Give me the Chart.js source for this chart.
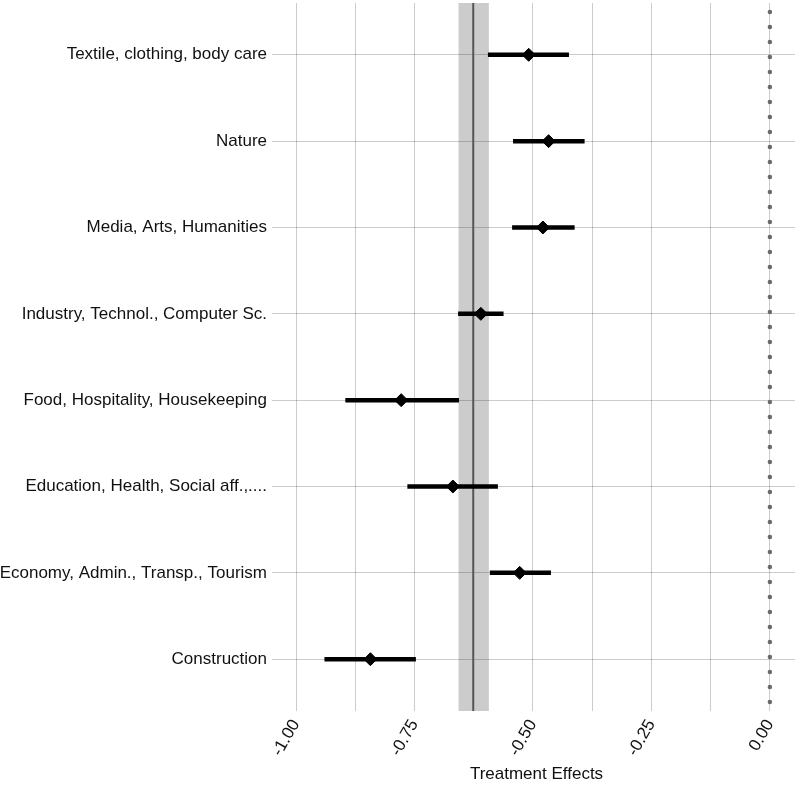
<!DOCTYPE html>
<html>
<head>
<meta charset="utf-8">
<script src="https://cdn.jsdelivr.net/npm/chart.js@4/dist/chart.umd.min.js"></script>
<style>
  html, body { margin: 0; padding: 0; background: #fff; overflow: hidden; }
  #wrap { width: 795px; height: 786px; }
</style>
</head>
<body>
<div id="wrap"><canvas id="graph1"></canvas></div>
<script>
// occupational fields, top to bottom
var categories = [
    'Textile, clothing, body care',
    'Nature',
    'Media, Arts, Humanities',
    'Industry, Technol., Computer Sc.',
    'Food, Hospitality, Housekeeping',
    'Education, Health, Social aff.,....',
    'Economy, Admin., Transp., Tourism',
    'Construction'
];
var estimates = [-0.509, -0.467, -0.479, -0.610, -0.778, -0.669, -0.528, -0.843];
var ciLow     = [-0.595, -0.542, -0.544, -0.658, -0.896, -0.765, -0.591, -0.940];
var ciHigh    = [-0.424, -0.391, -0.412, -0.562, -0.656, -0.574, -0.462, -0.747];

// pooled effect and its interval (grey band)
var overallEffect = -0.626;
var overallLow = -0.657;
var overallHigh = -0.593;

var xTicks = [-1, -0.875, -0.75, -0.625, -0.5, -0.375, -0.25, -0.125, 0];
var xLabelTicks = [-1, -0.75, -0.5, -0.25, 0];

var FONT = "'Liberation Sans', Arial, sans-serif";
var GRID = 'rgba(0,0,0,0.2)';

var rows = categories.map(function (c, i) { return i + 1; });

var datasets = [];

// confidence intervals
categories.forEach(function (c, i) {
    datasets.push({
        type: 'line',
        data: [{x: ciLow[i], y: rows[i]}, {x: ciHigh[i], y: rows[i]}],
        borderColor: '#000',
        borderWidth: 4.5,
        borderCapStyle: 'butt',
        pointRadius: 0
    });
});

// point estimates
datasets.push({
    type: 'scatter',
    data: estimates.map(function (v, i) { return {x: v, y: rows[i]}; }),
    pointStyle: 'rectRot',
    pointRadius: 6.5,
    backgroundColor: '#000',
    borderColor: '#000'
});

// zero reference line
datasets.push({
    type: 'line',
    data: [{x: 0, y: 0.4}, {x: 0, y: 8.6}],
    borderColor: '#6a6a6a',
    borderWidth: 4.5,
    borderCapStyle: 'round',
    borderDash: [0, 15],
    borderDashOffset: 6,
    pointRadius: 0
});

var bandPlugin = {
    id: 'band',
    beforeDatasetsDraw: function (chart) {
        var ctx = chart.ctx, x = chart.scales.x, area = chart.chartArea;
        var l = x.getPixelForValue(overallLow), r = x.getPixelForValue(overallHigh);
        var m = x.getPixelForValue(overallEffect);
        ctx.save();
        ctx.fillStyle = 'rgba(0,0,0,0.2)';
        ctx.fillRect(l, area.top, r - l, area.bottom - area.top);
        ctx.strokeStyle = '#555';
        ctx.lineWidth = 2;
        ctx.beginPath();
        ctx.moveTo(m, area.top);
        ctx.lineTo(m, area.bottom);
        ctx.stroke();
        ctx.restore();
    }
};

var ctx = document.getElementById('graph1').getContext('2d');
var config = {
    type: 'scatter',
    data: { datasets: datasets },
    plugins: [bandPlugin],
    options: {
        responsive: true,
        maintainAspectRatio: false,
        animation: false,
        layout: { autoPadding: false, padding: { top: 3, right: 0, left: 0, bottom: 0 } },
        plugins: { legend: { display: false }, tooltip: { enabled: false } },
        scales: {
            x: {
                type: 'linear',
                min: -1.038,
                max: 0.053,
                afterBuildTicks: function (axis) {
                    axis.ticks = xTicks.map(function (v) { return {value: v}; });
                },
                afterFit: function (axis) {
                    axis.height = 75;
                    axis.paddingLeft = 0;
                    axis.paddingRight = 0;
                },
                ticks: {
                    minRotation: 60,
                    maxRotation: 60,
                    padding: 5,
                    color: '#111',
                    font: { family: FONT, size: 17 },
                    callback: function (v) {
                        return xLabelTicks.indexOf(v) >= 0 ? v.toFixed(2) : '';
                    }
                },
                grid: { color: GRID, lineWidth: 1, drawTicks: false },
                border: { display: false },
                title: {
                    display: true,
                    text: 'Treatment Effects',
                    color: '#111',
                    font: { family: FONT, size: 17 },
                    padding: { top: 0, bottom: 1 }
                }
            },
            y: {
                type: 'linear',
                reverse: true,
                min: 0.4,
                max: 8.6,
                afterBuildTicks: function (axis) {
                    axis.ticks = rows.map(function (v) { return {value: v}; });
                },
                afterFit: function (axis) {
                    axis.width = 278;
                    axis.paddingTop = 0;
                    axis.paddingBottom = 0;
                },
                ticks: {
                    padding: 5,
                    color: '#111',
                    font: { family: FONT, size: 17 },
                    callback: function (v) { return categories[v - 1]; }
                },
                grid: { color: GRID, lineWidth: 1, tickLength: 6, tickColor: GRID },
                border: { display: false }
            }
        }
    }
};
var graph1 = new Chart(ctx, config);
</script>
</body>
</html>
